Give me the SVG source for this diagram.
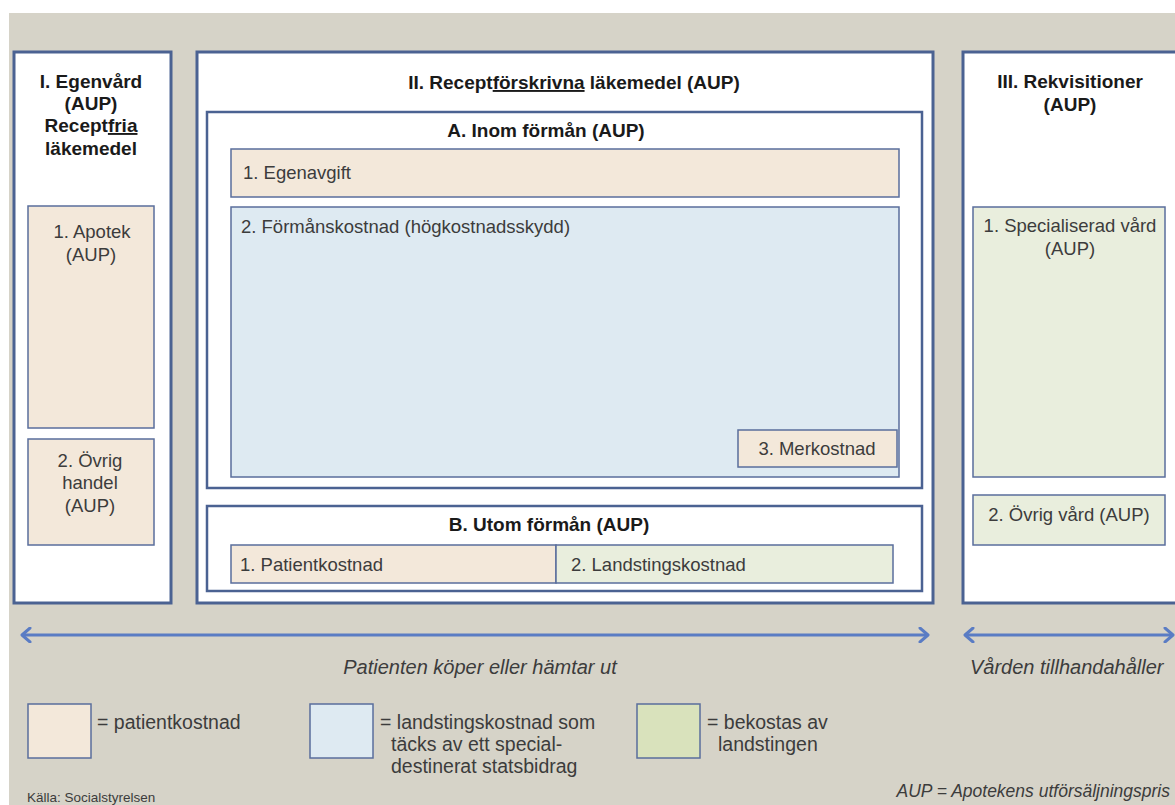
<svg xmlns="http://www.w3.org/2000/svg" width="1175" height="805" viewBox="0 0 1175 805">
<style>
.panel{fill:#ffffff;stroke:#4b6292;stroke-width:3}
.sub{fill:#ffffff;stroke:#4b6292;stroke-width:2.5}
.box{stroke:#5a6e9c;stroke-width:1.5}
.beige{fill:#f3e8da}
.blue{fill:#deeaf2}
.green{fill:#e9eedd}
.lgreen{fill:#d9e2bc}
.t{font-family:"Liberation Sans",Arial,sans-serif;font-size:18.5px;fill:#3c3c3c}
.b{font-family:"Liberation Sans",Arial,sans-serif;font-size:19px;font-weight:bold;fill:#1a1a1a}
.i{font-family:"Liberation Sans",Arial,sans-serif;font-style:italic;fill:#3c3c3c}
.lg{font-family:"Liberation Sans",Arial,sans-serif;font-size:19.5px;fill:#3c3c3c}
.c{text-anchor:middle}
.arrow{stroke:#5a7cc4;stroke-width:3;fill:none}
</style>
<defs>
<marker id="head" viewBox="0 0 12 16" refX="10" refY="8" markerWidth="12" markerHeight="16" markerUnits="userSpaceOnUse" orient="auto-start-reverse">
<path d="M2,1 L10,8 L2,15" fill="none" stroke="#5a7cc4" stroke-width="3" stroke-linecap="round" stroke-linejoin="round"/>
</marker>
</defs>
<rect x="0" y="0" width="1175" height="805" fill="#ffffff"/>
<rect x="9" y="13" width="1166" height="792" fill="#d6d3c8"/>

<g id="panel-I">
<rect class="panel" x="14" y="52" width="157" height="551"/>
<text class="b c" x="91" y="88">I. Egenvård</text>
<text class="b c" x="91" y="110">(AUP)</text>
<text class="b c" x="91" y="132">Recept<tspan text-decoration="underline">fria</tspan></text>
<text class="b c" x="91" y="155">läkemedel</text>
</g>
<g id="apotek">
<rect class="box beige" x="28" y="206" width="126" height="222"/>
<text class="t c" x="92" y="238">1. Apotek</text>
<text class="t c" x="91" y="261">(AUP)</text>
</g>
<g id="ovrig-handel">
<rect class="box beige" x="28" y="439" width="126" height="106"/>
<text class="t c" x="90" y="467">2. Övrig</text>
<text class="t c" x="90" y="489">handel</text>
<text class="t c" x="90" y="512">(AUP)</text>
</g>

<g id="panel-II">
<rect class="panel" x="197" y="52" width="736" height="551"/>
<text class="b c" x="574" y="89">II. Recept<tspan text-decoration="underline">förskrivna</tspan> läkemedel (AUP)</text>
</g>
<g id="sub-A">
<rect class="sub" x="207" y="112" width="715" height="376"/>
<text class="b c" x="546" y="137">A. Inom förmån (AUP)</text>
</g>
<g id="egenavgift">
<rect class="box beige" x="231" y="149" width="668" height="48"/>
<text class="t" x="243" y="179">1. Egenavgift</text>
</g>
<g id="formanskostnad">
<rect class="box blue" x="231" y="207" width="668" height="270"/>
<text class="t" x="241" y="233">2. Förmånskostnad (högkostnadsskydd)</text>
</g>
<g id="merkostnad">
<rect class="box beige" x="738" y="430" width="159" height="37"/>
<text class="t c" x="817" y="455">3. Merkostnad</text>
</g>
<g id="sub-B">
<rect class="sub" x="207" y="506" width="715" height="85"/>
<text class="b c" x="549" y="531">B. Utom förmån (AUP)</text>
</g>
<g id="patientkostnad">
<rect class="box beige" x="231" y="545" width="325" height="38"/>
<text class="t" x="240" y="571">1. Patientkostnad</text>
</g>
<g id="landstingskostnad">
<rect class="box green" x="556" y="545" width="337" height="38"/>
<text class="t" x="571" y="571">2. Landstingskostnad</text>
</g>

<g id="panel-III">
<rect class="panel" x="963" y="52" width="222" height="551"/>
<text class="b c" x="1070" y="88">III. Rekvisitioner</text>
<text class="b c" x="1070" y="111">(AUP)</text>
</g>
<g id="specialiserad">
<rect class="box green" x="973" y="207" width="192" height="270"/>
<text class="t c" x="1070" y="232">1. Specialiserad vård</text>
<text class="t c" x="1070" y="255">(AUP)</text>
</g>
<g id="ovrig-vard">
<rect class="box green" x="973" y="495" width="192" height="50"/>
<text class="t c" x="1069" y="521">2. Övrig vård (AUP)</text>
</g>

<g id="connectors">
<line class="arrow" x1="22" y1="635" x2="928" y2="635" marker-start="url(#head)" marker-end="url(#head)"/>
<line class="arrow" x1="965" y1="635" x2="1173" y2="635" marker-start="url(#head)" marker-end="url(#head)"/>
</g>
<text class="i c" x="480" y="674" font-size="20">Patienten köper eller hämtar ut</text>
<text class="i" x="970" y="674" font-size="20">Vården tillhandahåller</text>

<g id="legend-patient">
<rect class="box beige" x="28" y="704" width="63" height="54"/>
<text class="lg" x="97" y="729">= patientkostnad</text>
</g>
<g id="legend-landsting">
<rect class="box blue" x="310" y="704" width="63" height="54"/>
<text class="lg" x="380" y="729">= landstingskostnad som</text>
<text class="lg" x="391" y="751">täcks av ett special-</text>
<text class="lg" x="391" y="773">destinerat statsbidrag</text>
</g>
<g id="legend-bekostas">
<rect class="box lgreen" x="637" y="704" width="63" height="54"/>
<text class="lg" x="707" y="729">= bekostas av</text>
<text class="lg" x="718" y="751">landstingen</text>
</g>
<text x="27" y="802" font-family="Liberation Sans, Arial, sans-serif" font-size="13.5" fill="#3c3c3c">Källa: Socialstyrelsen</text>
<text class="i" x="1170" y="797" font-size="17.5" text-anchor="end">AUP = Apotekens utförsäljningspris</text>
</svg>
